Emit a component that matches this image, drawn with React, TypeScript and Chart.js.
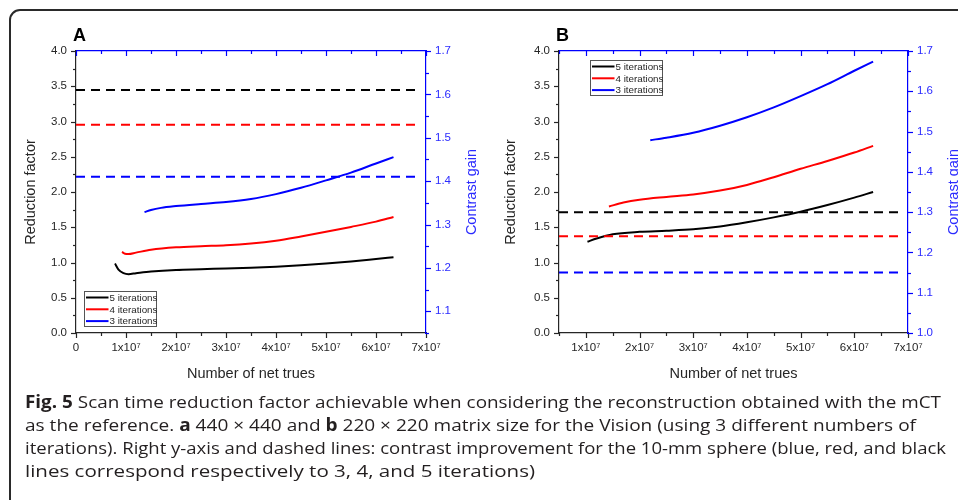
import React, { useEffect, useLayoutEffect, useRef } from 'react';
import { Chart, registerables } from 'chart.js';

Chart.register(...registerables);

const FONT = '"Liberation Sans", Arial, Helvetica, sans-serif';
const BLUE = '#0000ff';
const BLUE_TEXT = '#2b2bff';
const DARK = '#262626';

// x values are in units of 10^7 net trues
const xMaxAll = 7;
const xLabelStep = 1;

// ---------- Panel A (440 x 440) ----------
const aX5 = [0.78, 0.85, 0.95, 1.05, 1.2, 1.5, 2, 2.5, 3, 3.5, 4, 4.5, 5, 5.5, 6, 6.35];
const aY5 = [0.985, 0.9, 0.85, 0.835, 0.848, 0.872, 0.895, 0.905, 0.915, 0.925, 0.94, 0.96, 0.985, 1.015, 1.05, 1.075];
const aX4 = [0.92, 0.98, 1.05, 1.2, 1.5, 2, 2.5, 3, 3.5, 4, 4.5, 5, 5.5, 6, 6.35];
const aY4 = [1.15, 1.125, 1.12, 1.14, 1.18, 1.215, 1.232, 1.245, 1.27, 1.31, 1.37, 1.435, 1.505, 1.58, 1.645];
const aX3 = [1.37, 1.5, 1.7, 2, 2.5, 3, 3.5, 4, 4.5, 5, 5.5, 6, 6.35];
const aY3 = [1.715, 1.745, 1.775, 1.8, 1.83, 1.857, 1.9, 1.97, 2.06, 2.165, 2.275, 2.405, 2.495];
const aDashX = [0, 6.82];
const aGain = [1.61, 1.53, 1.41]; // 5, 4, 3 iterations

// ---------- Panel B (220 x 220) ----------
const bX5 = [1.03, 1.2, 1.5, 2, 2.5, 3, 3.5, 4, 4.5, 5, 5.5, 6, 6.35];
const bY5 = [1.295, 1.34, 1.4, 1.435, 1.45, 1.47, 1.51, 1.57, 1.64, 1.72, 1.815, 1.92, 2.0];
const bX4 = [1.43, 1.7, 2, 2.5, 3, 3.5, 4, 4.5, 5, 5.5, 6, 6.35];
const bY4 = [1.795, 1.85, 1.89, 1.93, 1.965, 2.02, 2.1, 2.21, 2.33, 2.44, 2.56, 2.655];
const bX3 = [2.2, 2.5, 3, 3.5, 4, 4.5, 5, 5.5, 6, 6.35];
const bY3 = [2.735, 2.77, 2.84, 2.94, 3.06, 3.2, 3.36, 3.53, 3.72, 3.85];
const bDashX = [0.5, 6.82];
const bGain = [1.3, 1.24, 1.15];

const seriesLabels = ['5 iterations', '4 iterations', '3 iterations'];
const seriesColors = ['#000000', '#ff0000', '#0000ff'];

const captionLines = [
  [{ b: true, t: 'Fig. 5' }, { b: false, t: ' Scan time reduction factor achievable when considering the reconstruction obtained with the mCT' }],
  [{ b: false, t: 'as the reference. ' }, { b: true, t: 'a' }, { b: false, t: ' 440 × 440 and ' }, { b: true, t: 'b' }, { b: false, t: ' 220 × 220 matrix size for the Vision (using 3 different numbers of' }],
  [{ b: false, t: 'iterations). Right y-axis and dashed lines: contrast improvement for the 10-mm sphere (blue, red, and black' }],
  [{ b: false, t: 'lines correspond respectively to 3, 4, and 5 iterations)' }],
];
const CAPTION_LEFT = 25;
const captionRight = [941, 916, 946, 535];

type PanelSpec = {
  w: number; left: number; xMin: number; y2Min: number; leftW: number; rightW: number;
  xs: number[][]; ys: number[][]; dashX: number[]; gain: number[];
  legend: { x: number; y: number }; rightTitleX: number;
};

const panelA: PanelSpec = {
  w: 480, left: 0, xMin: 0, y2Min: 1.05, leftW: 76, rightW: 54,
  xs: [aX5, aX4, aX3], ys: [aY5, aY4, aY3], dashX: aDashX, gain: aGain,
  legend: { x: 84, y: 290.5 }, rightTitleX: 472,
};
const panelB: PanelSpec = {
  w: 478, left: 480, xMin: 0.5, y2Min: 1.0, leftW: 79, rightW: 50,
  xs: [bX5, bX4, bX3], ys: [bY5, bY4, bY3], dashX: bDashX, gain: bGain,
  legend: { x: 109.5, y: 60 }, rightTitleX: 474,
};

const near = (v: number, step: number) => Math.abs(v / step - Math.round(v / step)) < 1e-6;

const originTicks = {
  id: 'originTicks',
  afterDraw(chart: any) {
    const { ctx, chartArea: ca } = chart;
    const specs = [
      { s: chart.scales.x, base: ca.bottom, dx: 0, dy: 1, color: DARK, major: xLabelStep },
      { s: chart.scales.x, base: ca.top, dx: 0, dy: 1, color: BLUE, major: xLabelStep },
      { s: chart.scales.y, base: ca.left, dx: -1, dy: 0, color: DARK, major: 0.5 },
      { s: chart.scales.y2, base: ca.right, dx: 1, dy: 0, color: BLUE, major: 0.1 },
    ];
    ctx.save();
    ctx.lineWidth = 1.2;
    for (const sp of specs) {
      ctx.strokeStyle = sp.color;
      for (const t of sp.s.ticks) {
        const len = near(t.value, sp.major) ? 5 : 3;
        const p = Math.round(sp.s.getPixelForValue(t.value)) + 0.5;
        ctx.beginPath();
        if (sp.dx === 0) {
          ctx.moveTo(p, sp.base);
          ctx.lineTo(p, sp.base + sp.dy * len);
        } else {
          ctx.moveTo(sp.base, p);
          ctx.lineTo(sp.base + sp.dx * len, p);
        }
        ctx.stroke();
      }
    }
    ctx.restore();
  },
};

const boxLegend = {
  id: 'boxLegend',
  afterDraw(chart: any, _args: any, opts: any) {
    const { ctx } = chart;
    const x = Math.round(opts.x) + 0.5;
    const y = Math.round(opts.y) + 0.5;
    const w = 72, h = 35;
    ctx.save();
    ctx.fillStyle = '#ffffff';
    ctx.fillRect(x, y, w, h);
    ctx.strokeStyle = '#555';
    ctx.lineWidth = 1;
    ctx.strokeRect(x, y, w, h);
    const items = chart.data.datasets.filter((d: any) => d.label);
    items.forEach((d: any, i: number) => {
      const cy = y + 6 + i * 11.8;
      ctx.strokeStyle = d.borderColor;
      ctx.lineWidth = 2;
      ctx.beginPath();
      ctx.moveTo(x + 1.5, cy);
      ctx.lineTo(x + 24, cy);
      ctx.stroke();
      ctx.fillStyle = DARK;
      ctx.font = `9.8px ${FONT}`;
      ctx.textBaseline = 'middle';
      ctx.textAlign = 'left';
      ctx.fillText(d.label, x + 25, cy + 0.5);
    });
    ctx.restore();
  },
};

const rightTitle = {
  id: 'rightTitle',
  afterDraw(chart: any, _args: any, opts: any) {
    const { ctx, chartArea: ca } = chart;
    ctx.save();
    ctx.translate(opts.x, (ca.top + ca.bottom) / 2);
    ctx.rotate(-Math.PI / 2);
    ctx.fillStyle = BLUE_TEXT;
    ctx.font = `14.5px ${FONT}`;
    ctx.textAlign = 'center';
    ctx.textBaseline = 'middle';
    ctx.fillText(opts.text, 0, 0);
    ctx.restore();
  },
};

function buildConfig(p: PanelSpec): any {
  const curves = p.xs.map((xs, k) => ({
    label: seriesLabels[k],
    data: xs.map((x, i) => ({ x, y: p.ys[k][i] })),
    borderColor: seriesColors[k],
    backgroundColor: seriesColors[k],
    borderWidth: 2,
    pointRadius: 0,
    cubicInterpolationMode: 'monotone',
    fill: false,
    xAxisID: 'x',
    yAxisID: 'y',
  }));
  const dashes = p.gain.map((g, k) => ({
    label: '',
    data: p.dashX.map((x) => ({ x, y: g })),
    borderColor: seriesColors[k],
    borderWidth: 2,
    borderDash: [9, 6],
    pointRadius: 0,
    fill: false,
    xAxisID: 'x',
    yAxisID: 'y2',
  }));
  const tickFont = { family: FONT, size: 11.5 };
  const titleFont = { family: FONT, size: 14.5 };
  return {
    type: 'line',
    data: { datasets: [...dashes, ...curves] },
    plugins: [originTicks, boxLegend, rightTitle],
    options: {
      animation: false,
      responsive: false,
      devicePixelRatio: 1,
      layout: { padding: { top: 51, left: 0, right: 0, bottom: 0 } },
      plugins: {
        legend: { display: false },
        tooltip: { enabled: false },
        boxLegend: { x: p.legend.x, y: p.legend.y },
        rightTitle: { x: p.rightTitleX, text: 'Contrast gain' },
      },
      scales: {
        x: {
          type: 'linear', position: 'bottom', min: p.xMin, max: xMaxAll,
          grid: { display: false, drawTicks: false },
          border: { color: DARK, width: 1.2 },
          ticks: {
            stepSize: 0.5, autoSkip: false, maxRotation: 0, padding: 8, color: DARK, font: tickFont,
            callback: (v: number) => (near(v, xLabelStep) ? (Math.round(v) === 0 ? '0' : `${Math.round(v)}x10\u2077`) : ''),
          },
          title: { display: true, text: 'Number of net trues', color: DARK, font: titleFont, padding: { top: 0, bottom: 12.5 } },
          afterFit: (s: any) => { s.height = 62; },
        },
        xTop: {
          type: 'linear', position: 'top', axis: 'x', min: p.xMin, max: xMaxAll,
          grid: { display: false, drawTicks: false },
          border: { color: BLUE, width: 1.2 },
          ticks: { display: false, stepSize: 0.5 },
          afterFit: (s: any) => { s.height = 0; },
        },
        y: {
          type: 'linear', position: 'left', min: 0, max: 4,
          grid: { display: false, drawTicks: false },
          border: { color: DARK, width: 1.2 },
          ticks: {
            stepSize: 0.25, autoSkip: false, padding: 9, color: DARK, font: tickFont,
            callback: (v: number) => (near(v, 0.5) ? v.toFixed(1) : ''),
          },
          title: { display: true, text: 'Reduction factor', color: DARK, font: titleFont, padding: { top: 22.5, bottom: 0 } },
          afterFit: (s: any) => { s.width = p.leftW; },
        },
        y2: {
          type: 'linear', position: 'right', min: p.y2Min, max: 1.7,
          grid: { display: false, drawTicks: false },
          border: { color: BLUE, width: 1.2 },
          ticks: {
            stepSize: 0.05, autoSkip: false, padding: 9, color: BLUE_TEXT, font: tickFont,
            callback: (v: number) => (near(v, 0.1) ? v.toFixed(1) : ''),
          },
          afterFit: (s: any) => { s.width = p.rightW; },
        },
      },
    },
  };
}

function PanelChart({ panel }: { panel: PanelSpec }) {
  const ref = useRef<HTMLCanvasElement>(null);
  useEffect(() => {
    const chart = new Chart(ref.current as HTMLCanvasElement, buildConfig(panel));
    return () => chart.destroy();
  }, [panel]);
  return (
    <canvas
      ref={ref}
      width={panel.w}
      height={395}
      style={{ position: 'absolute', left: panel.left, top: 0, width: panel.w, height: 395 }}
    />
  );
}

function Caption() {
  const refs = useRef<(HTMLDivElement | null)[]>([]);
  useLayoutEffect(() => {
    refs.current.forEach((el, i) => {
      if (!el) return;
      el.style.transform = 'none';
      const w = el.getBoundingClientRect().width;
      const k = w > 0 ? (captionRight[i] - CAPTION_LEFT) / w : 1;
      el.style.transform = `scaleX(${k})`;
    });
  }, []);
  return (
    <>
      {captionLines.map((line, i) => (
        <div
          key={i}
          ref={(el) => { refs.current[i] = el; }}
          style={{
            position: 'absolute', left: CAPTION_LEFT, top: 390 + i * 23, whiteSpace: 'nowrap',
            fontFamily: '"Open Sans", "Noto Sans", sans-serif', fontSize: 17, lineHeight: '23px',
            color: '#231f20', transformOrigin: 'left center',
          }}
        >
          {line.map((seg, j) => (
            <span key={j} style={{ fontWeight: seg.b ? 700 : 400 }}>{seg.t}</span>
          ))}
        </div>
      ))}
    </>
  );
}

export default function App() {
  return (
    <div style={{ position: 'fixed', left: 0, top: 0, width: 958, height: 500, overflow: 'hidden', background: '#fff' }}>
      <div
        style={{
          position: 'absolute', left: 9, top: 9, width: 1000, height: 600,
          border: '2px solid #2a2a2a', borderRadius: 11, boxSizing: 'border-box',
        }}
      />
      <PanelChart panel={panelA} />
      <PanelChart panel={panelB} />
      <div style={{ position: 'absolute', left: 73, top: 26, fontFamily: FONT, fontWeight: 700, fontSize: 18, lineHeight: '18px', color: '#000' }}>A</div>
      <div style={{ position: 'absolute', left: 556, top: 26, fontFamily: FONT, fontWeight: 700, fontSize: 18, lineHeight: '18px', color: '#000' }}>B</div>
      <Caption />
    </div>
  );
}
